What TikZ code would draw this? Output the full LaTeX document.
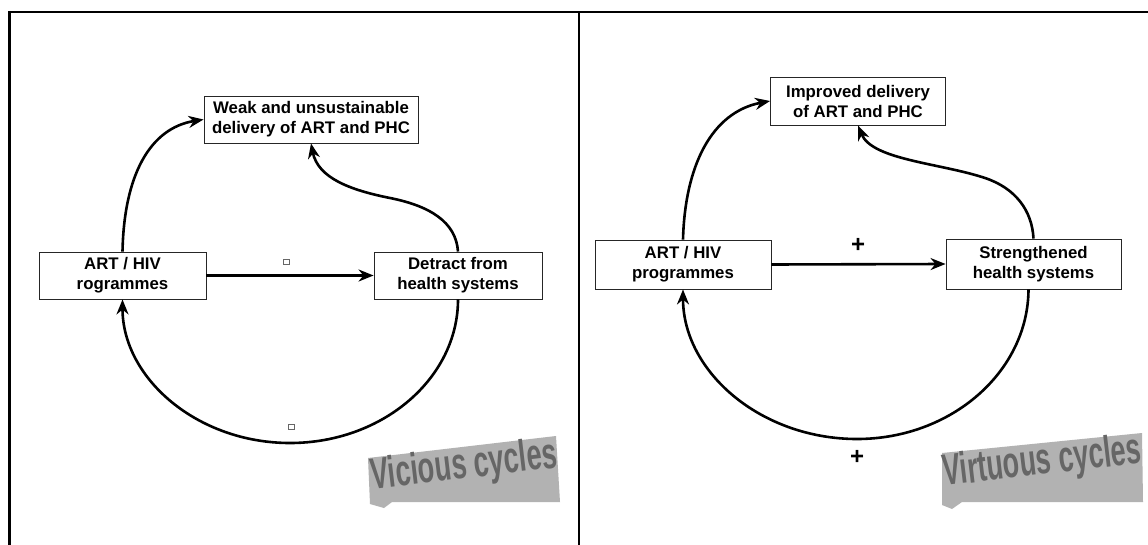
\documentclass[tikz,border=0pt]{standalone}
\usepackage{fontspec}
\setmainfont{Liberation Sans}
\usetikzlibrary{arrows.meta}
\begin{document}
\begin{tikzpicture}[x=1pt,y=-1pt,
  box/.style={draw=black!85, line width=0.9pt, fill=white, align=center,
    font=\fontsize{16.8}{20}\selectfont\bfseries, inner sep=0pt},
  link/.style={line width=2.6pt, -{Stealth[length=15pt,width=12pt]}},
  sign/.style={font=\fontsize{24}{24}\selectfont\bfseries, inner sep=0pt},
  glyphbox/.style={draw=black!60, line width=0.5pt, minimum width=6pt, minimum height=5pt, inner sep=0pt},
  wmtext/.style={font=\fontsize{44}{44}\selectfont\bfseries, text=black!60, rotate=6.7, inner sep=0pt},
  wmfill/.style={fill=black!30}
]
\useasboundingbox (0,0) rectangle (1148,545);
\fill[white] (0,0) rectangle (1148,545);

% frame
\draw[line width=2.5pt] (8,12) -- (1148,12);
\draw[line width=3pt] (9,11) -- (9,545);
\draw[line width=1.4pt] (579,12) -- (579,545);

% ---------- left panel ----------
\node[box, minimum width=214pt, minimum height=47pt] (topL) at (311,119.5)
  {Weak and unsustainable\\delivery of ART and PHC};
\node[box, minimum width=167pt, minimum height=47pt] (artL) at (122.5,275.5)
  {ART / HIV\\rogrammes};
\node[box, minimum width=168pt, minimum height=47pt] (detL) at (458,275.5)
  {Detract from\\health systems};

\draw[link] (artL.east) -- (detL.west);
\draw[link] (artL.north) .. controls (124,175) and (150,128) .. (topL.west);
\draw[link] (detL.north) .. controls (456,222) and (430,206) .. (390,198)
  .. controls (350,190) and (318,178) .. (topL.south);
\draw[link] (detL.south) .. controls (458,378) and (383,443) .. (290,443)
  .. controls (197,443) and (122.5,378) .. (artL.south);

\node[glyphbox] (gA) at (286,262) {};
\node[glyphbox] (gB) at (291,427) {};

\fill[wmfill] (368,458) -- (556,436) -- (560,502) -- (392,502) -- (384,508) -- (370,504) -- cycle;
\node[wmtext, xscale=0.62] (wmL) at (464,467) {Vicious cycles};

% ---------- right panel ----------
\node[box, minimum width=175pt, minimum height=48pt] (impR) at (858,101)
  {Improved delivery\\of ART and PHC};
\node[box, minimum width=176pt, minimum height=49pt] (artR) at (683,264.5)
  {ART / HIV\\programmes};
\node[box, minimum width=175pt, minimum height=50pt] (strR) at (1033.5,264)
  {Strengthened\\health systems};

\draw[link] (artR.east) -- (strR.west);
\draw[link] (artR.north) .. controls (685,165) and (712,112) .. (impR.west);
\draw[link] (strR.north) .. controls (1032,210) and (1015,188) .. (985,178)
  .. controls (940,163) and (872,160) .. (impR.south);
\draw[link] ([xshift=-5pt]strR.south) .. controls (1028,372) and (951,439) .. (857,439)
  .. controls (761,439) and (683,372) .. (artR.south);

\node[sign] (pA) at (858,245) {+};
\node[sign] (pB) at (857,457) {+};

\fill[wmfill] (942,453) -- (1142,433) -- (1143,502) -- (962,502) -- (952,509) -- (942,505) -- cycle;
\node[wmtext, xscale=0.615] (wmR) at (1042,463) {Virtuous cycles};
\end{tikzpicture}
\end{document}
